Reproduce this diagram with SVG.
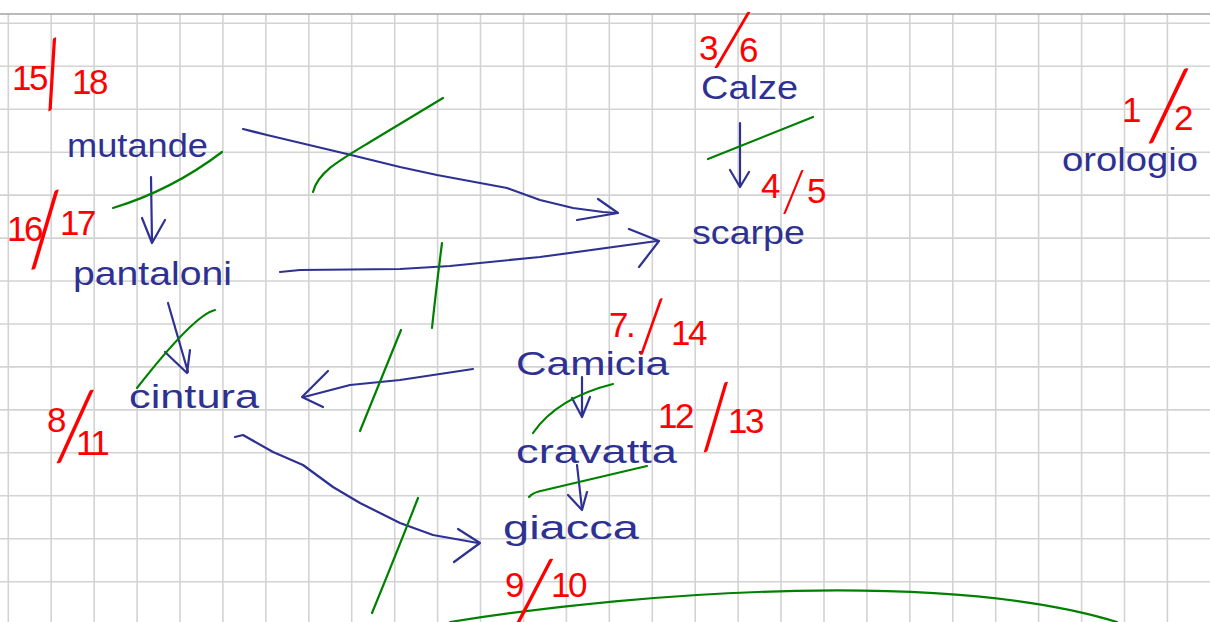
<svg xmlns="http://www.w3.org/2000/svg" width="1210" height="622" viewBox="0 0 1210 622">
<style>
.grid{stroke:#d3d3d3;stroke-width:1.6;fill:none}
.top{stroke:#a3a3a3;stroke-width:1.6;fill:none}
.w{font-family:"Liberation Sans",Arial,sans-serif;font-size:34px;fill:#2e3192}
.n{font-family:"Liberation Sans",Arial,sans-serif;font-size:35px;fill:#ff0000;letter-spacing:-2.5px}
.sl{font-family:Lato,"Liberation Sans",sans-serif;font-weight:300;letter-spacing:0}
.ar{stroke:#2e3192;stroke-width:2.2;fill:none;stroke-linecap:round;stroke-linejoin:round}
.cr{stroke:#008000;stroke-width:2.2;fill:none;stroke-linecap:round;stroke-linejoin:round}
</style>
<rect width="1210" height="622" fill="#ffffff"/>
<g id="grid">
<path class="grid" d="M8.3,14V622M51.2,14V622M94.2,14V622M137.1,14V622M180,14V622M222.9,14V622M265.9,14V622M308.8,14V622M351.7,14V622M394.7,14V622M437.6,14V622M480.5,14V622M523.5,14V622M566.4,14V622M609.3,14V622M652.3,14V622M695.2,14V622M738.1,14V622M781,14V622M824,14V622M866.9,14V622M909.8,14V622M952.8,14V622M995.7,14V622M1038.6,14V622M1081.6,14V622M1124.5,14V622M1167.4,14V622"/>
<path class="grid" d="M0,23.3H1210M0,66.3H1210M0,109.2H1210M0,152.2H1210M0,195.1H1210M0,238.1H1210M0,281H1210M0,324H1210M0,366.9H1210M0,409.9H1210M0,452.8H1210M0,495.8H1210M0,538.7H1210M0,581.7H1210"/>
<path class="top" d="M0,14H1210"/>
</g>
<g id="connectors">
<g id="e-mutande-scarpe"><path class="ar" d="M243,129L267,135L347,154L400,167L437,175L507,188L540,200L573,208L603,212L616,213"/><path class="ar" d="M598,199L618,213L577,220"/></g>
<g id="e-pantaloni-scarpe"><path class="ar" d="M280,272L300,270L400,269L450,266L540,257L657,241"/><path class="ar" d="M629,229L659,241L639,267"/></g>
<g id="e-mutande-pantaloni"><path class="ar" d="M151,177L152,242"/><path class="ar" d="M142,218L152,243L165,220"/></g>
<g id="e-pantaloni-cintura"><path class="ar" d="M168,303L188,372"/><path class="ar" d="M165,352L187,373L190,350"/></g>
<g id="e-camicia-cintura"><path class="ar" d="M473,369L400,380L350,385L304,397"/><path class="ar" d="M328,371L302,397L323,407"/></g>
<g id="e-cintura-giacca"><path class="ar" d="M235,437L243,435L273,452L303,465L333,487L360,503L400,523L433,535L478,543"/><path class="ar" d="M458,529L480,543L454,562"/></g>
<g id="e-calze-scarpe"><path class="ar" d="M740,123L740,186"/><path class="ar" d="M730,170L740,187L749,172"/></g>
<g id="e-camicia-cravatta"><path class="ar" d="M582,377L582,416"/><path class="ar" d="M572,398L582,417L590,397"/></g>
<g id="e-cravatta-giacca"><path class="ar" d="M577,465L582,509"/><path class="ar" d="M568,495L582,510L587,492"/></g>
<g id="strikes">
<path class="cr" d="M113,208Q172,190 222,152"/>
<path class="cr" d="M313,192C318,172 340,160 370,142L443,98"/>
<path class="cr" d="M442,243Q436,290 432,328"/>
<path class="cr" d="M215,310Q194,315 137,388"/>
<path class="cr" d="M401,330Q385,370 360,431"/>
<path class="cr" d="M418,498Q397,552 372,613"/>
<path class="cr" d="M708,159Q760,138 813,117"/>
<path class="cr" d="M533,433Q557,398 613,384"/>
<path class="cr" d="M529,497Q533,492 545,490L647,466"/>
<path class="cr" d="M450,622C650,590 950,571 1117,622"/>
</g>
</g>
<g id="n-mutande"><text class="w" x="67" y="157" textLength="141" lengthAdjust="spacingAndGlyphs">mutande</text>
<text class="n" x="12" y="90">15<tspan class="sl" x="44" y="109" font-size="88" rotate="-19">/</tspan><tspan x="72" y="94">18</tspan></text></g>
<g id="n-pantaloni"><text class="w" x="73" y="285" textLength="159" lengthAdjust="spacingAndGlyphs">pantaloni</text>
<text class="n" x="7" y="241">16<tspan class="sl" x="27" y="266" font-size="100" rotate="-6">/</tspan><tspan x="60" y="235">17</tspan></text></g>
<g id="n-cintura"><text class="w" x="129" y="408" textLength="130" lengthAdjust="spacingAndGlyphs">cintura</text>
<text class="n" x="47" y="432">8<tspan class="sl" x="53" y="459" font-size="97" rotate="2">/</tspan><tspan x="76" y="455">11</tspan></text></g>
<g id="n-camicia"><text class="w" x="516" y="375" textLength="153" lengthAdjust="spacingAndGlyphs">Camicia</text>
<text class="n" x="609" y="337">7.<tspan class="sl" x="637" y="352" font-size="72" rotate="-3">/</tspan><tspan x="671" y="345">14</tspan></text></g>
<g id="n-cravatta"><text class="w" x="516" y="463" textLength="161" lengthAdjust="spacingAndGlyphs">cravatta</text>
<text class="n" x="658" y="428" font-size="32">12<tspan class="sl" x="700" y="449" font-size="88" rotate="-6">/</tspan><tspan x="728" y="433">13</tspan></text></g>
<g id="n-giacca"><text class="w" x="503" y="539" textLength="136" lengthAdjust="spacingAndGlyphs">giacca</text>
<text class="n" x="505" y="597">9<tspan class="sl" x="512" y="621" font-size="90" rotate="5">/</tspan><tspan x="551" y="597">10</tspan></text></g>
<g id="n-calze"><text class="w" x="701" y="99" textLength="97" lengthAdjust="spacingAndGlyphs">Calze</text>
<text class="n" x="699" y="60">3<tspan class="sl" x="712" y="64" font-size="78" rotate="8">/</tspan><tspan x="739" y="62">6</tspan></text></g>
<g id="n-scarpe"><text class="w" x="692" y="244" textLength="113" lengthAdjust="spacingAndGlyphs">scarpe</text>
<text class="n" x="761" y="198" font-size="30">4<tspan class="sl" x="781" y="211" font-size="57">/</tspan><tspan x="807" y="203">5</tspan></text></g>
<g id="n-orologio"><text class="w" x="1062" y="171" textLength="136" lengthAdjust="spacingAndGlyphs">orologio</text>
<text class="n" x="1122" y="122">1<tspan class="sl" x="1145" y="139" font-size="100" rotate="3">/</tspan><tspan x="1174" y="130">2</tspan></text></g>
</svg>
